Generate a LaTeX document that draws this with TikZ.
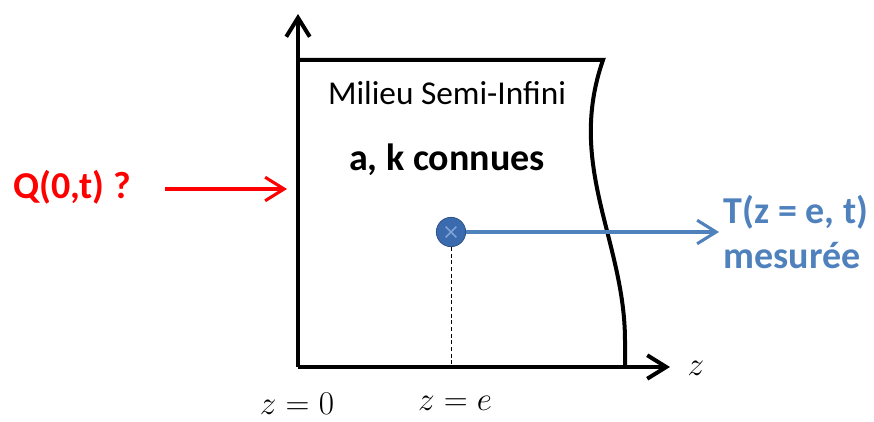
\documentclass[tikz,border=0pt]{standalone}
\usepackage{fontspec}
\setmainfont{Carlito}
\usetikzlibrary{positioning, arrows.meta, calc}
\definecolor{fluxRed}{HTML}{FF0000}
\definecolor{mesBlue}{HTML}{4F81BD}
\definecolor{dotBlue}{HTML}{3C6AAE}
\definecolor{dotLight}{HTML}{7FA3D6}
\newcommand{\lbl}[1]{\fontsize{25}{30}\selectfont #1}
\newcommand{\blbl}[1]{\fontsize{28.5}{34}\selectfont\bfseries #1}

\begin{document}
\begin{tikzpicture}[
  x=0.75pt, y=0.75pt,
  axis/.style={line width=3pt, -{Straight Barb[length=5mm, width=6.2mm]}},
  wall/.style={line width=3pt, line join=miter},
  hint/.style={->, >={Straight Barb[length=5mm, width=6.2mm]}, line width=2.3pt},
  mathlbl/.style={font=\fontsize{25}{30}\selectfont},
]
\useasboundingbox (0,0) rectangle (874,421);

% ===== axes =================================================================
\coordinate (orig) at (298,54);
\coordinate (ztip) at (670,54);
\coordinate (ytip) at (298,407);
\draw[axis] (orig) -- (ztip);
\draw[axis] (orig) -- (ytip);

% ===== semi-infinite medium =================================================
\coordinate (tl) at (298,361);
\coordinate (tr) at (603,361);
\coordinate (br) at (625,54);
\draw[wall] (tl) -- (tr)
  .. controls (566,255) and (625,180) .. (625,80) -- (br);

\node (milieu) at (447,328) {\lbl{Milieu Semi-Infini}};
\node (prop) at (447,261) {\blbl{a, k connues}};

% ===== unknown flux at z = 0 ================================================
\node[text=fluxRed] (flux) at (72,234) {\blbl{Q(0,t) ?}};
\coordinate (fluxout) at (165,232);
\coordinate (fluxin) at (287,232);
\draw[hint, draw=fluxRed] (fluxout) -- (fluxin);

% ===== sensor at z = e ======================================================
\node[circle, minimum size=22pt, inner sep=0pt, fill=dotBlue, draw=dotBlue!80!black, line width=0.6pt] (sensor) at (451,189) {};
\draw[dotLight, line width=1.2pt] ($(sensor.center)+(-4pt,-4pt)$) -- ($(sensor.center)+(4pt,4pt)$)
  ($(sensor.center)+(-4pt,4pt)$) -- ($(sensor.center)+(4pt,-4pt)$);
\coordinate (sfoot) at (451,54);
\draw[line width=0.7pt, dash pattern=on 3pt off 2pt] (sensor.south) -- (sfoot);

\node[text=mesBlue, align=left, anchor=west, font=\fontsize{28.5}{34}\selectfont\bfseries] (mesure) at (719,189)
  {T(z = e, t)\\mesurée};
\draw[hint, draw=mesBlue] (sensor.east) -- (mesure.west);

% ===== axis labels ==========================================================
\node[mathlbl] (zlbl) at (696,53) {$z$};
\node[mathlbl] (zzero) at (297,17) {$z=0$};
\node[mathlbl] (ze) at (455,18) {$z=e$};

\end{tikzpicture}
\end{document}
